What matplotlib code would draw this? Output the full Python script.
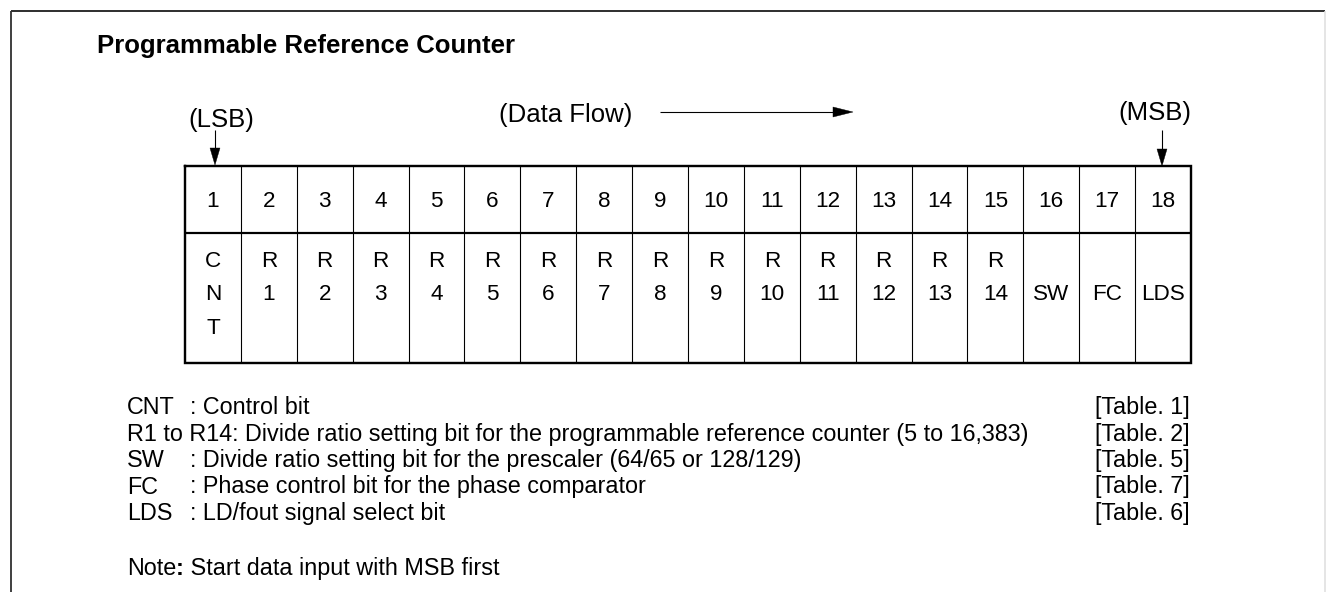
import matplotlib
matplotlib.use("Agg")
import matplotlib.pyplot as plt
from matplotlib.patches import Polygon

# ---------------- data ----------------
title = "Programmable Reference Counter"
bit_numbers = list(range(1, 19))
bit_names = ["CNT", "R1", "R2", "R3", "R4", "R5", "R6", "R7", "R8", "R9",
             "R10", "R11", "R12", "R13", "R14", "SW", "FC", "LDS"]
top_labels = ["(LSB)", "(Data Flow)", "(MSB)"]
legend_keys = ["CNT", "R1 to R14", "SW", "FC", "LDS"]
legend_desc = ["Control bit",
               "Divide ratio setting bit for the programmable reference counter (5 to 16,383)",
               "Divide ratio setting bit for the prescaler (64/65 or 128/129)",
               "Phase control bit for the phase comparator",
               "LD/fout signal select bit"]
legend_refs = ["[Table. 1]", "[Table. 2]", "[Table. 5]", "[Table. 7]", "[Table. 6]"]
note_head = "Note"
note_text = " Start data input with MSB first"

# ---------------- figure ----------------
W, H = 1327, 592
fig = plt.figure(figsize=(W / 100, H / 100), dpi=100)
ax = fig.add_axes([0, 0, 1, 1])
ax.set_xlim(0, W)
ax.set_ylim(H, 0)
ax.axis("off")

FONT = "Liberation Sans"
PX = 0.72  # points per pixel at 100 dpi

# outer frame
ax.plot([11, 11], [H, 11], color="#444444", lw=2 * PX, solid_capstyle="butt")
ax.plot([11, 1325], [11, 11], color="#333333", lw=2 * PX, solid_capstyle="butt")
ax.plot([1325, 1325], [11, H], color="#dddddd", lw=1.5 * PX, solid_capstyle="butt")

# title
ax.text(97, 53, title, fontsize=18.5, fontweight="bold", family=FONT,
        ha="left", va="baseline")

# table geometry
x0, x1 = 185, 1191
y_top, y_mid, y_bot = 166, 233, 363
n = len(bit_numbers)
cw = (x1 - x0) / n
xs = [x0 + i * cw for i in range(n + 1)]

for xb in xs[1:-1]:
    ax.plot([xb, xb], [y_top, y_bot], color="black", lw=1.1 * PX, solid_capstyle="butt")
ax.plot([x0, x1], [y_mid, y_mid], color="black", lw=2.2 * PX, solid_capstyle="butt")
ax.plot([x0, x1, x1, x0, x0], [y_top, y_top, y_bot, y_bot, y_top], color="black",
        lw=2.4 * PX, solid_joinstyle="miter")

TS = 16.2
for i, (num, name) in enumerate(zip(bit_numbers, bit_names)):
    cx = (xs[i] + xs[i + 1]) / 2
    ax.text(cx, 207, str(num), fontsize=TS, family=FONT, ha="center", va="baseline")
    if name == "CNT":
        lines = list(enumerate(name))
    elif name.startswith("R"):
        lines = [(0, "R"), (1, name[1:])]
    else:
        lines = [(1, name)]
    for k, s in lines:
        ax.text(cx, 267 + 33.5 * k, s, fontsize=TS, family=FONT, ha="center", va="baseline")


def down_arrow(x, ya, yb):
    ax.plot([x, x], [ya, yb - 16], color="black", lw=1.1 * PX, solid_capstyle="butt")
    ax.add_patch(Polygon([[x - 5, yb - 17], [x + 5, yb - 17], [x, yb]],
                         closed=True, facecolor="black", edgecolor="black", lw=0.3))


# top labels and arrows
ax.text(221, 127, top_labels[0], fontsize=18.5, family=FONT, ha="center", va="baseline")
down_arrow(215, 130, 165)
ax.text(499, 122, top_labels[1], fontsize=18.5, family=FONT, ha="left", va="baseline")
ax.plot([660, 834], [112, 112], color="black", lw=1.1 * PX, solid_capstyle="butt")
ax.add_patch(Polygon([[833, 107], [833, 117], [853, 112]], closed=True,
                     facecolor="black", edgecolor="black", lw=0.3))
ax.text(1191, 120, top_labels[2], fontsize=18.5, family=FONT, ha="right", va="baseline")
down_arrow(1162, 130, 166)

# legend
LS = 16.8
base = [414, 440.5, 467, 493.5, 520]
for key, desc, ref, yb in zip(legend_keys, legend_desc, legend_refs, base):
    if key.startswith("R1"):
        ax.text(127, yb, key + ": " + desc, fontsize=LS, family=FONT, ha="left", va="baseline")
    else:
        ax.text(127, yb, key, fontsize=LS, family=FONT, ha="left", va="baseline")
        ax.text(190, yb, ": " + desc, fontsize=LS, family=FONT, ha="left", va="baseline")
    ax.text(1095, yb, ref, fontsize=LS, family=FONT, ha="left", va="baseline")

# note with bold colon
r = fig.canvas.get_renderer()
t1 = ax.text(127, 575, note_head, fontsize=LS, family=FONT, ha="left", va="baseline")
bb = t1.get_window_extent(renderer=r)
inv = ax.transData.inverted()
xe = inv.transform((bb.x1, bb.y0))[0]
t2 = ax.text(xe, 575, ":", fontsize=LS, family=FONT, fontweight="bold", ha="left", va="baseline")
bb2 = t2.get_window_extent(renderer=r)
xe2 = inv.transform((bb2.x1, bb2.y0))[0]
ax.text(xe2, 575, note_text, fontsize=LS, family=FONT, ha="left", va="baseline")

fig.savefig("out.png", dpi=100, facecolor="white")
